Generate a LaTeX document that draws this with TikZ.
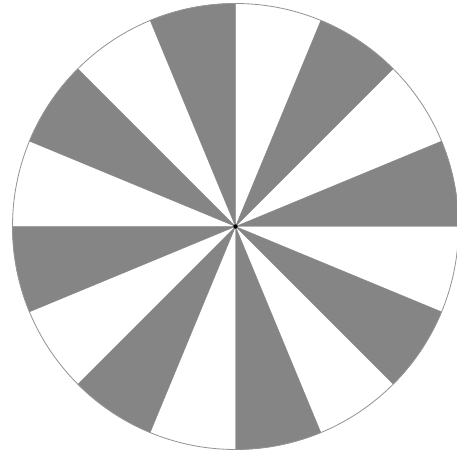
\documentclass[tikz,border=0pt]{standalone}
\tikzset{
  wedge/.style={fill=black!48, draw=black!48, line width=0.3pt, line join=round},
  rim/.style={draw=black!42, line width=0.7pt},
  hubdot/.style={fill=black},
}
\begin{document}
\begin{tikzpicture}[x=0.03cm, y=0.03cm]
\useasboundingbox (0,0) rectangle (457,452);
\fill[white] (0,0) rectangle (457,452);
\coordinate (hub) at (235.5,225.5);
\filldraw[wedge] (hub) -- ++(0:223) arc (0:22.5:223) -- cycle;
\filldraw[wedge] (hub) -- ++(45:223) arc (45:67.5:223) -- cycle;
\filldraw[wedge] (hub) -- ++(90:223) arc (90:112.5:223) -- cycle;
\filldraw[wedge] (hub) -- ++(135:223) arc (135:157.5:223) -- cycle;
\filldraw[wedge] (hub) -- ++(180:223) arc (180:202.5:223) -- cycle;
\filldraw[wedge] (hub) -- ++(225:223) arc (225:247.5:223) -- cycle;
\filldraw[wedge] (hub) -- ++(270:223) arc (270:292.5:223) -- cycle;
\filldraw[wedge] (hub) -- ++(315:223) arc (315:337.5:223) -- cycle;
\draw[rim] (hub) circle (223);
\fill[hubdot] (hub) circle (2.2);
\end{tikzpicture}
\end{document}
